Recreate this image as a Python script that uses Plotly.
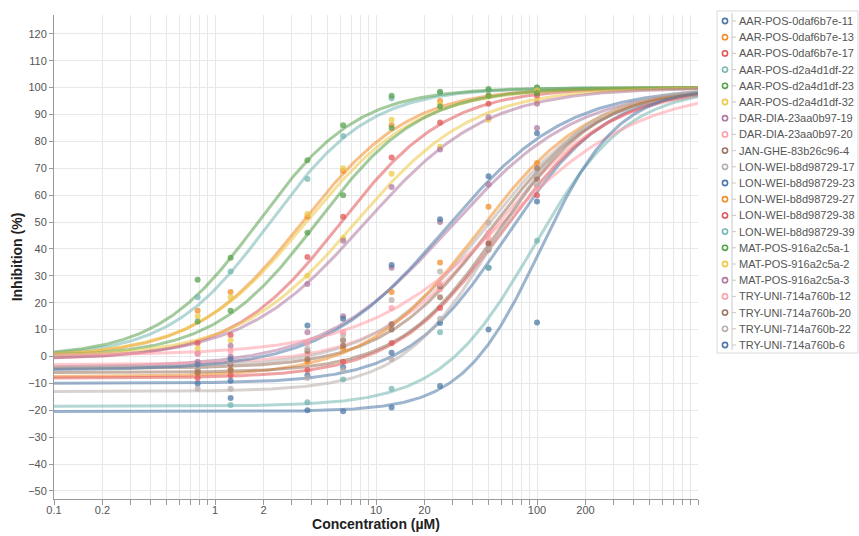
import numpy as np
import plotly.graph_objects as go

# ---------------- data ----------------
series_names = [
    "AAR-POS-0daf6b7e-11", "AAR-POS-0daf6b7e-13", "AAR-POS-0daf6b7e-17",
    "AAR-POS-d2a4d1df-22", "AAR-POS-d2a4d1df-23", "AAR-POS-d2a4d1df-32",
    "DAR-DIA-23aa0b97-19", "DAR-DIA-23aa0b97-20", "JAN-GHE-83b26c96-4",
    "LON-WEI-b8d98729-17", "LON-WEI-b8d98729-23", "LON-WEI-b8d98729-27",
    "LON-WEI-b8d98729-38", "LON-WEI-b8d98729-39", "MAT-POS-916a2c5a-1",
    "MAT-POS-916a2c5a-2", "MAT-POS-916a2c5a-3", "TRY-UNI-714a760b-12",
    "TRY-UNI-714a760b-20", "TRY-UNI-714a760b-22", "TRY-UNI-714a760b-6",
]

concentrations = [0.78, 1.25, 3.75, 6.25, 12.5, 25, 50, 100]

# fitted 4-parameter logistic parameters
fit_bottom = [-10, 0, -1, 0, 0, 0, -4, -3, -4.5, -4, -5, -7.5, -8, -18.5, 0, 0, -1, 0.5, -6, -13, -20.5]
fit_top    = [100] * 21
fit_ic50   = [65, 3.5, 6.0, 2.2, 1.85, 3.7, 29, 55, 52, 48, 27, 43, 60, 95, 4.3, 7.5, 8.5, 62, 58, 55, 105]
fit_hill   = [1.4, 1.3, 1.3, 1.4, 1.4, 1.25, 1.1, 1.2, 1.3, 1.25, 1.15, 1.25, 1.3, 1.5, 1.35, 1.2, 1.15, 1.0, 1.4, 1.5, 1.8]

inh_aar_11 = [-10, -9, -7, -4, 1.4, 12.5, 33, 57.6]
inh_aar_13 = [17, 24, 52, 69, 86, 95, 97, 98]
inh_aar_17 = [5, 8, 37, 52, 74, 87, 94, 97]
inh_aar_22 = [22, 31.6, 66, 82, 96, 98, 99, 100]
inh_aar_23 = [28.5, 36.7, 73, 86, 97, 98.5, 99.5, 100]
inh_aar_32 = [15, 22, 53, 70, 88, 94, 97, 99]
inh_dar_19 = [-2, 0, 9, 15, 33, 50, 64, 85]
inh_dar_20 = [-3, -2, 1, 4, 12, 25, 46, 63]
inh_jan_4  = [-5, -3, 2, 6, 12, 26, 39.7, 66]
inh_lon_17 = [-4, -2, 3, 8, 21, 31.6, 49.7, 68]
inh_lon_23 = [-3, -1, 11.5, 14, 34, 51, 67, 83]
inh_lon_27 = [-6, -5, -2, 3, 24, 35, 55.7, 72]
inh_lon_38 = [-8, -7, -5, -2, 5, 18, 42, 60]
inh_lon_39 = [None, -18, -17, -8.6, -12, 9, 33, 43]
inh_mat_1  = [13, 17, 46, 60, 85, 93, 97, 98]
inh_mat_2  = [3, 6, 30, 44, 68, 78, 88, 95]
inh_mat_3  = [1, 4, 27, 43, 63, 77, 89, 94]
inh_try_12 = [1, 2, 5, 9, 18, 27, 44, 63]
inh_try_20 = [-6, -5, -1, 4, 10, 22, 42, 70]
inh_try_22 = [-12, -12, -8, -5, -1, 14, 40, 64]
inh_try_6  = [None, -15.4, -20, -20.4, -19, -11, 10, 12.6]

inhibition = [inh_aar_11, inh_aar_13, inh_aar_17, inh_aar_22, inh_aar_23, inh_aar_32,
              inh_dar_19, inh_dar_20, inh_jan_4, inh_lon_17, inh_lon_23, inh_lon_27,
              inh_lon_38, inh_lon_39, inh_mat_1, inh_mat_2, inh_mat_3, inh_try_12,
              inh_try_20, inh_try_22, inh_try_6]

palette = ["#4e79a7", "#f28e2b", "#e15759", "#76b7b2", "#59a14f",
           "#edc948", "#b07aa1", "#ff9da7", "#9c755f", "#bab0ac"]

x_tick_vals = [m * 10.0 ** e for e in range(-1, 3) for m in range(1, 10)] + [1000]
x_tick_labels = {0.1: "0.1", 0.2: "0.2", 1: "1", 2: "2", 10: "10", 20: "20", 100: "100", 200: "200"}
y_tick_vals = list(range(-50, 130, 10))

# ---------------- figure ----------------
W, H = 859, 536
L, R, T, B = 54, 698, 15, 499
FONT = "Liberation Sans, Arial, sans-serif"

fig = go.Figure()
xs = np.logspace(-1, 3, 300)
for i, name in enumerate(series_names):
    col = palette[i % 10]
    b, t, c, h = fit_bottom[i], fit_top[i], fit_ic50[i], fit_hill[i]
    ys = b + (t - b) / (1 + (c / xs) ** h)
    fig.add_trace(go.Scatter(x=xs, y=ys, mode="lines", name=name, showlegend=False,
                             line=dict(color=col, width=3), opacity=0.55, hoverinfo="skip"))
for i, name in enumerate(series_names):
    col = palette[i % 10]
    fig.add_trace(go.Scatter(x=concentrations, y=inhibition[i], mode="markers", name=name,
                             showlegend=False,
                             marker=dict(color=col, size=6, opacity=0.75, line=dict(width=0))))

def px_x(p):
    return (p - L) / (R - L)

def px_y(p):
    return (B - p) / (B - T)

shapes = []
annotations = []
# legend box
shapes.append(dict(type="rect", xref="paper", yref="paper",
                   x0=px_x(717), x1=px_x(858), y0=px_y(353), y1=px_y(11),
                   line=dict(color="#d9d9d9", width=1), fillcolor="rgba(0,0,0,0)", layer="above"))
shapes.append(dict(type="line", xref="paper", yref="paper",
                   x0=px_x(732), x1=px_x(732), y0=px_y(13), y1=px_y(350),
                   line=dict(color="#c8c8c8", width=1), layer="above"))
for i, name in enumerate(series_names):
    col = palette[i % 10]
    yy = 21 + 16.2 * i
    shapes.append(dict(type="circle", xref="paper", yref="paper",
                       xsizemode="pixel", ysizemode="pixel",
                       xanchor=px_x(725), yanchor=px_y(yy),
                       x0=-2.6, x1=2.6, y0=-2.6, y1=2.6,
                       line=dict(color=col, width=1.6), fillcolor="white", layer="above"))
    shapes.append(dict(type="line", xref="paper", yref="paper",
                       x0=px_x(732), x1=px_x(736), y0=px_y(yy), y1=px_y(yy),
                       line=dict(color="#c8c8c8", width=1), layer="above"))
    annotations.append(dict(text=name, xref="paper", yref="paper",
                            x=px_x(737), y=px_y(yy), xanchor="left", yanchor="middle",
                            showarrow=False, font=dict(family=FONT, size=11, color="#555555")))

fig.update_layout(
    width=W, height=H,
    margin=dict(l=L, r=W - R, t=T, b=H - B, autoexpand=False),
    paper_bgcolor="white", plot_bgcolor="white",
    font=dict(family=FONT, size=11, color="#555555"),
    showlegend=False,
    shapes=shapes, annotations=annotations,
)
fig.update_xaxes(
    type="log", range=[-1, 3],
    tickmode="array", tickvals=x_tick_vals,
    ticktext=[x_tick_labels.get(round(v, 6), "") for v in x_tick_vals],
    showgrid=True, gridcolor="#e8e8e8", gridwidth=1,
    showline=True, linecolor="#9a9a9a", linewidth=1,
    ticks="outside", ticklen=5, tickcolor="#9a9a9a",
    ticklabelstandoff=-4,
    tickfont=dict(size=11, color="#555555"),
    zeroline=False, automargin=False,
    title=dict(text="<b>Concentration (µM)</b>", font=dict(size=14, color="#222222"), standoff=2),
)
fig.update_yaxes(
    range=[-53, 127],
    tickmode="array", tickvals=y_tick_vals,
    showgrid=True, gridcolor="#e8e8e8", gridwidth=1,
    showline=True, linecolor="#9a9a9a", linewidth=1,
    ticks="outside", ticklen=4, tickcolor="#9a9a9a",
    tickfont=dict(size=11, color="#555555"),
    zeroline=False, automargin=False,
    title=dict(text="<b>Inhibition (%)</b>", font=dict(size=14, color="#222222"), standoff=2),
)

fig.write_html("out.html", config={"displayModeBar": False},
               post_script="document.body.style.margin='0';document.body.style.overflow='hidden';")
